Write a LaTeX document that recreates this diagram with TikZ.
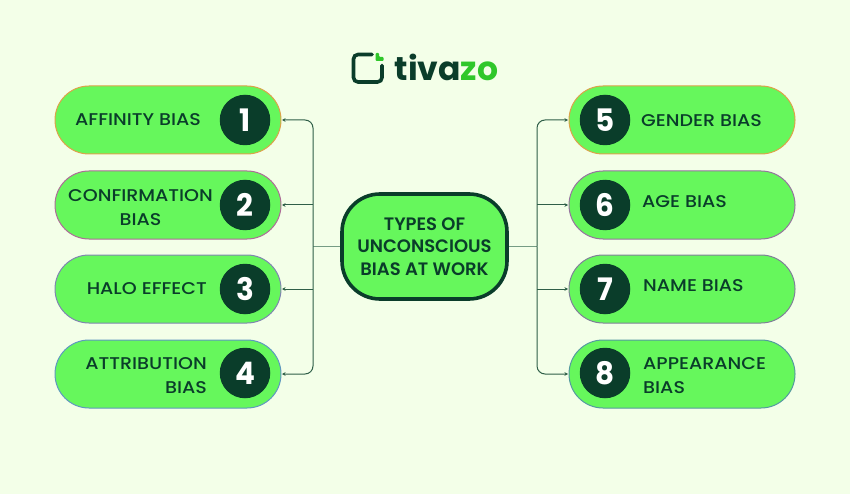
\documentclass[tikz,border=0pt]{standalone}
\usepackage{fontspec}
\setmainfont{Poppins}
\newfontfamily\pillfont[FakeStretch=1.12]{Poppins Medium}
\newfontfamily\hubfont{Poppins SemiBold}
\newfontfamily\badgefont[FakeStretch=0.95]{Poppins Bold}
\usetikzlibrary{arrows.meta}
\definecolor{bgc}{HTML}{F3FFE8}
\definecolor{pillc}{HTML}{66F75C}
\definecolor{darkc}{HTML}{0A3D2A}
\definecolor{linec}{HTML}{2F5F48}
\definecolor{hubline}{HTML}{759C84}
\definecolor{logog}{HTML}{2FC72A}
\definecolor{edgeA}{HTML}{DDA24A}
\definecolor{edgeB}{HTML}{AE6C98}
\definecolor{edgeC}{HTML}{7F86B0}
\definecolor{edgeD}{HTML}{5F98C0}
\definecolor{edgeE}{HTML}{96749F}
\definecolor{edgeF}{HTML}{7F8098}
\definecolor{edgeG}{HTML}{559AA0}
\tikzset{
  x=1pt,y=-1pt,
  pill/.style={draw=#1,line width=1pt,fill=pillc,rounded corners=34pt,minimum width=226pt,minimum height=68pt,inner sep=0pt},
  badge/.style={circle,fill=darkc,text=white,minimum size=50.5pt,inner sep=0pt,font=\fontsize{31}{31}\selectfont\badgefont},
  lab/.style={text=darkc,inner sep=0pt,font=\fontsize{17}{23.6}\selectfont\pillfont},
  hub/.style={draw=darkc,line width=3.6pt,fill=pillc,rounded corners=38pt,minimum width=165pt,minimum height=105pt,inner sep=0pt,text=darkc,align=center,font=\fontsize{18}{22.3}\selectfont\hubfont},
  conn/.style={draw=linec,line width=1pt,-{Stealth[length=3.5pt,width=3.5pt]},rounded corners=8pt,shorten >=0.5pt},
  trunk/.style={draw=hubline,line width=1.4pt},
}
\begin{document}
\begin{tikzpicture}
\useasboundingbox[fill=bgc] (0,0) rectangle (850,494);
% logo
\draw[darkc,line width=3.6pt,rounded corners=4.5pt,line cap=round] (372,54.5) -- (353.5,54.5) -- (353.5,82) -- (382,82) -- (382,65.5);
\fill[logog,rounded corners=1pt] (375.5,53) -- (379,53) -- (379,57) -- (383.5,57) -- (383.5,61) -- (375.5,61) -- cycle;
\node[anchor=base west,inner sep=0pt,font=\fontsize{33}{33}\selectfont\bfseries] (logo) at (394.5,81) {\textcolor{darkc}{tiva}\textcolor{logog}{zo}};
% hub
\node[hub] (hub) at (424.5,246.5) {TYPES OF\\UNCONSCIOUS\\BIAS AT WORK};
% pills
\node[pill=edgeA] (p1) at (168,120) {};
\node[pill=edgeB] (p2) at (168,205) {};
\node[pill=edgeC] (p3) at (168,289) {};
\node[pill=edgeD] (p4) at (168,374) {};
\node[pill=edgeA] (p5) at (682,120) {};
\node[pill=edgeE] (p6) at (682,205) {};
\node[pill=edgeF] (p7) at (682,289) {};
\node[pill=edgeG] (p8) at (682,374) {};
% badges
\foreach \n/\x/\y/\t in {b1/245/120/1,b2/245/205/2,b3/245/289/3,b4/245/373/4,b5/605/120/5,b6/605/205/6,b7/605/289/7,b8/605/373/8}
  \node[badge] (\n) at (\x,\y) {\t};
% labels
\node[lab,anchor=west] (l1) at (75,119.5) {AFFINITY BIAS};
\node[lab,align=center] (l2) at (140.5,207.5) {CONFIRMATION\\BIAS};
\node[lab,anchor=east] (l3) at (207,288.5) {HALO EFFECT};
\node[lab,anchor=east,align=right] (l4) at (207,375.5) {ATTRIBUTION\\BIAS};
\node[lab,anchor=west] (l5) at (641,120.5) {GENDER BIAS};
\node[lab,anchor=west] (l6) at (642,201.5) {AGE BIAS};
\node[lab,anchor=west] (l7) at (643,285.5) {NAME BIAS};
\node[lab,anchor=west,align=left] (l8) at (643,375.5) {APPEARANCE\\BIAS};
% connectors
\coordinate (jl) at (313,246.5);
\coordinate (jr) at (537,246.5);
\draw[trunk] (hub.west) -- (jl);
\draw[trunk] (hub.east) -- (jr);
\draw[conn] (jl) |- (p1.east);
\draw[conn] (jl) |- (p4.east);
\draw[conn] (p2.east -| jl) -- (p2.east);
\draw[conn] (p3.east -| jl) -- (p3.east);
\draw[conn] (jr) |- (p5.west);
\draw[conn] (jr) |- (p8.west);
\draw[conn] (p6.west -| jr) -- (p6.west);
\draw[conn] (p7.west -| jr) -- (p7.west);
\end{tikzpicture}
\end{document}
